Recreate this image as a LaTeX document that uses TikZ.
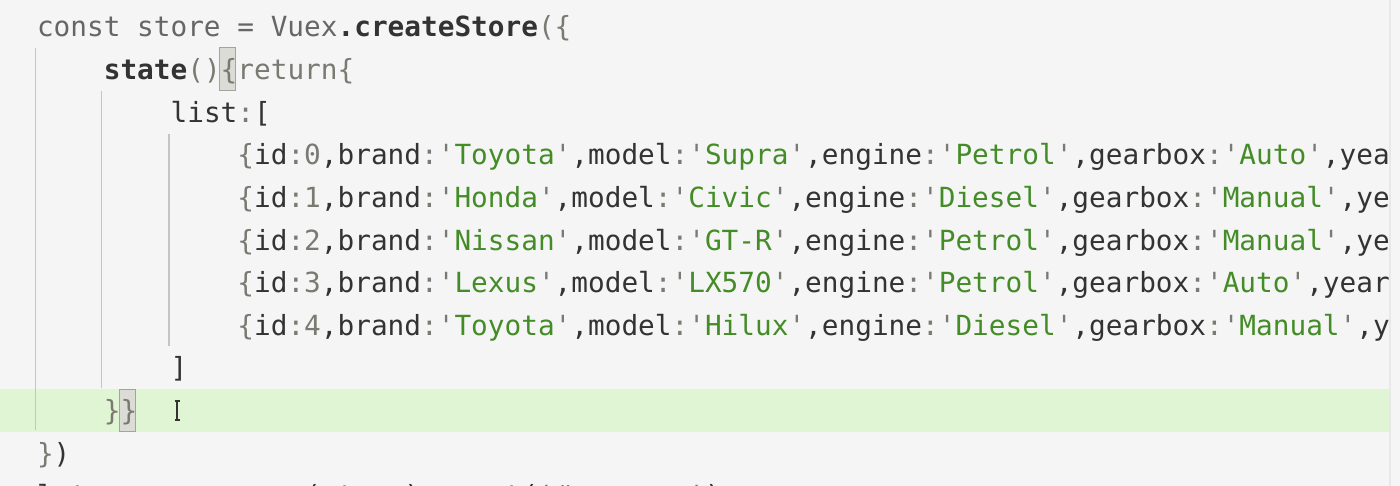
\documentclass[tikz,border=0pt]{standalone}
\usepackage{fontspec}
\setmonofont{DejaVu Sans Mono}
\usetikzlibrary{calc}

\definecolor{PageBg}{HTML}{F5F5F5}
\definecolor{CodeText}{HTML}{333333}
\definecolor{CodeKey}{HTML}{666666}
\definecolor{CodePunct}{HTML}{7A7A72}
\definecolor{CodeStr}{HTML}{448C27}
\definecolor{GuideGray}{HTML}{C4C4C4}
\definecolor{BandGreen}{HTML}{E0F5D4}
\definecolor{MatchFill}{HTML}{DCDCD6}
\definecolor{MatchDraw}{HTML}{A4A49C}
\definecolor{EdgeGray}{HTML}{E8E8E8}

\newcommand\CodeFont{\ttfamily\fontsize{13.87pt}{16pt}\selectfont}
\newcommand\pu[1]{\textcolor{CodePunct}{#1}}
\newcommand\codestr[1]{\textcolor{CodeStr}{#1}}
% one entry of a car record
\newcommand\kv[2]{#1\pu{:'}\codestr{#2}\pu{'},}
\newcommand\carid[1]{\pu{\{}id\pu{:#1},}

\begin{document}
\begin{tikzpicture}[
        %Environment config
        x=0.5pt,y=-0.5pt,
        %Environment styles
        CodeLine/.style={
            anchor=base west,
            inner sep=0pt,
            outer sep=0pt,
            font=\CodeFont,
            text=CodeText
        },
        IndentGuide/.style={draw=GuideGray,line width=0.75pt},
        MatchBox/.style={fill=MatchFill,draw=MatchDraw,line width=0.5pt}
    ]
    \path[clip] (0,0) rectangle (1400,486);
    \fill[PageBg] (0,0) rectangle (1400,486);

    % current line and bracket matches
    \fill[BandGreen] (0,389) rectangle (1390,431.5);
    \path[MatchBox]
        (219.5,48) rectangle (235.5,90.5)
        (119,389) rectangle (135,431);

    % indent guides
    \draw[IndentGuide]
        (35.7,48) -- (35.7,430)
        (101.7,91) -- (101.7,388)
        (169,134) -- (169,346);

    \begin{scope}
    \clip (0,0) rectangle (1389,486);
    \path
        (37,37) node[CodeLine](L0){\textcolor{CodeKey}{const store = Vuex}\textbf{.createStore}\pu{(\{}}
        (103.8,79.6) node[CodeLine](L1){\textbf{state}\pu{()\{return\{}}
        (170.6,122.2) node[CodeLine](L2){list\pu{:}[}
        (237.4,164.8) node[CodeLine](L3){\carid{0}\kv{brand}{Toyota}\kv{model}{Supra}\kv{engine}{Petrol}\kv{gearbox}{Auto}yea}
        (237.4,207.4) node[CodeLine](L4){\carid{1}\kv{brand}{Honda}\kv{model}{Civic}\kv{engine}{Diesel}\kv{gearbox}{Manual}ye}
        (237.4,250) node[CodeLine](L5){\carid{2}\kv{brand}{Nissan}\kv{model}{GT-R}\kv{engine}{Petrol}\kv{gearbox}{Manual}ye}
        (237.4,292.6) node[CodeLine](L6){\carid{3}\kv{brand}{Lexus}\kv{model}{LX570}\kv{engine}{Petrol}\kv{gearbox}{Auto}year}
        (237.4,335.2) node[CodeLine](L7){\carid{4}\kv{brand}{Toyota}\kv{model}{Hilux}\kv{engine}{Diesel}\kv{gearbox}{Manual}y}
        (170.6,377.8) node[CodeLine](L8){]}
        (103.8,420.4) node[CodeLine](L9){\pu{\}\}}}
        (37,463) node[CodeLine](L10){\pu{\}})}
        (37,505.6) node[CodeLine](L11){let app = vm.use(store).mount(\pu{'}\codestr{\#vue-app}\pu{'})};
    \end{scope}

    % mouse cursor
    \draw[CodeText,line width=0.6pt]
        (177,401) -- (177,420)
        (174.5,401) -- (179.5,401)
        (174.5,420) -- (179.5,420);

    % editor edge
    \draw[EdgeGray,line width=1pt] (1390,0) -- (1390,486);
\end{tikzpicture}
\end{document}
